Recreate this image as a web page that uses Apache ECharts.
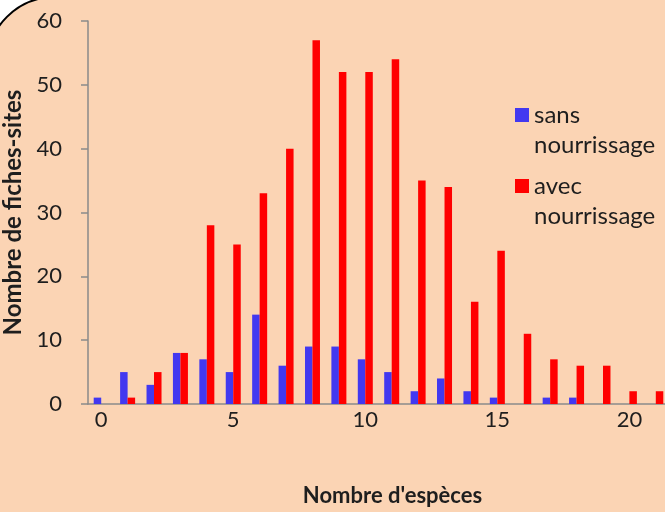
<!DOCTYPE html>
<html>
<head>
<meta charset="utf-8">
<script src="https://cdn.jsdelivr.net/npm/echarts@6/dist/echarts.min.js"></script>
<style>
  html, body { margin: 0; padding: 0; background: #fff; }
  #chart { width: 665px; height: 512px; }
</style>
</head>
<body>
<div id="chart"></div>
<script>
var categories = ['0','1','2','3','4','5','6','7','8','9','10','11','12','13','14','15','16','17','18','19','20','21'];
var sansNourrissage = [1, 5, 3, 8, 7, 5, 14, 6, 9, 9, 7, 5, 2, 4, 2, 1, 0, 1, 1, 0, 0, 0];
var avecNourrissage = [0, 1, 5, 8, 28, 25, 33, 40, 57, 52, 52, 54, 35, 34, 16, 24, 11, 7, 6, 6, 2, 2];
var yTicks = [0, 10, 20, 30, 40, 50, 60];

var font = 'Lato';
var textColor = '#1e1e1e';
var axisColor = '#8a8a8a';

var myChart = echarts.init(document.getElementById('chart'));

var option = {
  backgroundColor: '#ffffff',
  animation: false,
  graphic: [
    {
      type: 'rect',
      z: -10,
      silent: true,
      shape: { x: -13, y: -3, width: 800, height: 600, r: 68 },
      style: { fill: '#fbd4b4', stroke: '#000', lineWidth: 2 }
    }
  ],
  legend: {
    orient: 'vertical',
    left: 510,
    top: 65,
    itemWidth: 14,
    itemHeight: 14,
    itemGap: -19,
    icon: 'rect',
    data: ['sans\nnourrissage', 'avec\nnourrissage'],
    // leading empty line keeps the first text line level with the icon
    formatter: function (name) { return '\n' + name; },
    textStyle: {
      fontFamily: font,
      fontSize: 24,
      color: textColor,
      lineHeight: 30
    }
  },
  grid: {
    left: 88,
    right: -4,
    top: 21,
    bottom: 108,
    outerBoundsMode: 'none',
    containLabel: false
  },
  xAxis: {
    type: 'category',
    data: categories,
    name: "Nombre d'espèces",
    nameLocation: 'middle',
    nameGap: 81,
    nameTextStyle: {
      fontFamily: font,
      fontSize: 22,
      fontWeight: 'bold',
      color: textColor,
      padding: [0, 0, 0, 28]
    },
    axisLine: { lineStyle: { color: axisColor, width: 1.5 } },
    axisTick: { interval: 4, length: 8, lineStyle: { color: axisColor, width: 1.5 } },
    axisLabel: {
      interval: 4,
      margin: 5,
      fontFamily: font,
      fontSize: 22,
      color: textColor
    }
  },
  yAxis: {
    type: 'value',
    min: yTicks[0],
    max: yTicks[yTicks.length - 1],
    interval: 10,
    name: 'Nombre de fiches-sites',
    nameLocation: 'middle',
    nameGap: 62,
    nameTextStyle: {
      fontFamily: font,
      fontSize: 24,
      fontWeight: 'bold',
      color: textColor
    },
    splitLine: { show: false },
    axisLine: { show: true, lineStyle: { color: axisColor, width: 1.5 } },
    axisTick: { show: true, length: 7, lineStyle: { color: axisColor, width: 1.5 } },
    axisLabel: {
      margin: 26,
      fontFamily: font,
      fontSize: 22,
      color: textColor
    }
  },
  series: [
    {
      name: 'sans\nnourrissage',
      type: 'bar',
      data: sansNourrissage,
      barWidth: 7.5,
      barGap: '0%',
      itemStyle: { color: '#4238f0' }
    },
    {
      name: 'avec\nnourrissage',
      type: 'bar',
      data: avecNourrissage,
      barWidth: 7.5,
      barGap: '0%',
      itemStyle: { color: '#ff0000' }
    }
  ]
};

myChart.setOption(option);
</script>
</body>
</html>
